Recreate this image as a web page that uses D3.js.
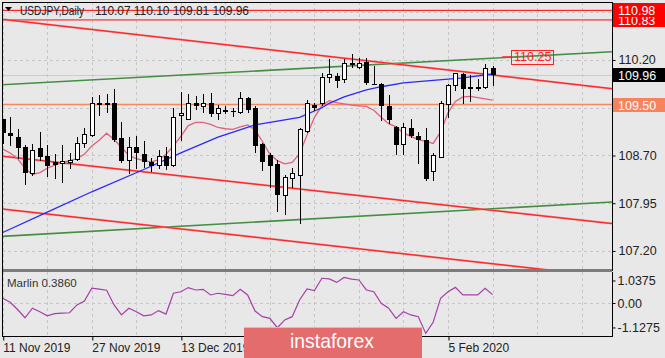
<!DOCTYPE html>
<html><head><meta charset="utf-8">
<script src="https://cdn.jsdelivr.net/npm/d3@7/dist/d3.min.js"></script>
<style>
body{margin:0;background:#e8e8e8;overflow:hidden}
svg{display:block}
text{font-family:"Liberation Sans",Arial,sans-serif}
</style></head>
<body><svg id="c" width="665" height="358"></svg>
<script>
// ---------------- DATA ----------------
const symbol = "USDJPY", timeframe = "Daily";
const open  = [109.27,109.06,108.99,108.84,108.42,108.81,108.69,108.60,108.58,108.60,108.64,108.89,109.02,109.52,109.52,109.52,108.97,108.63,108.84,108.73,108.60,108.55,108.69,108.55,109.33,109.28,109.52,109.48,109.53,109.36,109.41,109.40,109.39,109.61,109.44,108.88,108.71,108.57,108.08,108.34,108.40,109.09,109.49,109.52,109.93,109.95,109.90,110.15,110.09,110.17,109.83,109.83,109.48,109.14,108.88,109.13,109.01,108.95,108.46,108.68,109.51,109.81,109.98,109.76,109.76,109.78,110.07];
const high  = [109.28,109.31,109.11,108.86,108.88,109.07,108.87,108.72,108.87,108.74,108.99,109.13,109.62,109.65,109.67,109.74,109.22,108.99,109.00,108.92,108.66,108.79,108.84,109.44,109.70,109.67,109.63,109.67,109.68,109.49,109.47,109.44,109.69,109.62,109.47,108.89,108.74,108.63,108.39,108.50,109.13,109.57,109.52,109.99,110.21,110.00,110.21,110.29,110.23,110.23,110.11,109.84,109.65,109.16,109.21,109.27,109.07,109.13,108.74,109.55,109.83,110.00,110.00,109.96,109.90,110.14,110.10];
const low   = [108.89,108.87,108.66,108.25,108.39,108.63,108.37,108.34,108.29,108.50,108.63,108.84,109.01,109.34,109.39,108.92,108.60,108.43,108.50,108.52,108.45,108.50,108.48,108.54,108.95,109.27,109.43,109.39,109.32,109.27,109.36,109.32,109.37,109.39,108.76,108.47,108.21,107.83,107.78,108.21,107.64,109.07,109.41,109.49,109.86,109.78,109.86,110.09,110.07,109.83,109.82,109.26,109.21,108.73,108.73,108.99,108.58,108.32,108.32,108.68,109.31,109.73,109.53,109.55,109.73,109.76,109.81];
const close = [109.06,109.01,108.81,108.43,108.79,108.68,108.54,108.55,108.62,108.63,108.90,109.03,109.53,109.49,109.49,108.94,108.62,108.84,108.74,108.59,108.54,108.69,108.54,109.30,109.36,109.53,109.47,109.53,109.35,109.44,109.39,109.38,109.61,109.41,108.85,108.59,108.54,108.08,108.36,108.42,109.11,109.52,109.44,109.93,109.98,109.87,110.15,110.12,110.16,109.84,109.83,109.47,109.26,108.87,109.14,109.00,108.94,108.33,108.71,109.53,109.81,109.99,109.74,109.77,109.77,110.07,109.96];
// fast moving average (pink), one value per candle
const maFast = [108.80,108.74,108.65,108.50,108.40,108.43,108.50,108.55,108.59,108.62,108.65,108.72,108.85,108.94,109.05,108.95,108.83,108.70,108.65,108.62,108.60,108.63,108.72,108.85,109.00,109.17,109.22,109.22,109.19,109.14,109.12,109.11,109.15,109.18,109.10,108.92,108.72,108.62,108.57,108.59,108.73,109.02,109.30,109.48,109.56,109.53,109.51,109.49,109.48,109.47,109.41,109.30,109.20,109.15,109.05,109.00,108.95,108.92,108.89,109.07,109.37,109.55,109.62,109.63,109.61,109.59,109.57];
// slow moving average (blue), read at these candle indices
const maSlowIdx = [0,6,12,19,24,29,34,40,43,44,46,49,51,54,60,62,66];
const maSlowVal = [107.49,107.81,108.13,108.48,108.74,108.99,109.18,109.30,109.45,109.52,109.62,109.73,109.78,109.84,109.90,109.92,109.98];
// Marlin oscillator, one value per candle
const marlin = [0.22,0.03,-0.30,-0.68,-0.24,-0.40,-0.59,-0.49,-0.47,-0.45,-0.09,0.09,0.68,0.64,0.59,-0.09,-0.55,-0.24,-0.40,-0.59,-0.55,-0.35,-0.51,0.45,0.52,0.71,0.60,0.63,0.37,0.45,0.40,0.34,0.63,0.37,-0.37,-0.63,-0.71,-1.14,-0.78,-0.63,0.14,0.65,0.57,1.14,1.11,0.95,1.18,1.10,1.06,0.60,0.52,-0.01,-0.24,-0.71,-0.40,-0.55,-0.63,-1.40,-0.89,0.22,0.52,0.72,0.37,0.37,0.37,0.68,0.386];
const marlinLabel = "Marlin 0.3860";
// trend lines: [startIdx, startPrice, endIdx, endPrice]
const redLines   = [[-0.1,110.84,82.1,109.75],[-0.1,108.69,82.1,107.63],[-0.1,107.86,82.1,106.79]];
const greenLines = [[-0.1,109.81,82.1,110.33],[-0.1,107.43,82.1,107.97]];
// horizontal levels
const levelValues = [110.98,110.83,109.50];
const noteValue = 110.25, noteFromIdx = 67.3, noteBoxIdx = 68.5;
// axes
const priceTicks = [110.95,110.20,109.45,108.70,107.95,107.20];
const priceTickLabels = ["","110.20","","108.70","107.95","107.20"]; // 110.95 / 109.45 are covered by level tags
const oscTicks = [1.0375,0.00,-1.1275];
const oscTickLabels = ["1.0375","0.00","-1.1275"];
const dateTickIdx = [0,12,24,36,48,60];
const dateTickLabels = ["11 Nov 2019","27 Nov 2019","13 Dec 2019","","","5 Feb 2020"]; // middle two hidden under the logo

// ---------------- LAYOUT ----------------
const W=665,H=358, L=2, R=612, mT=2, mB=269, oT=272, oB=336;
const svg=d3.select("#c");
const x=d3.scaleLinear().domain([-0.1,82.1]).range([L,R]);
const y=d3.scaleLinear().domain([106.917,111.111]).range([mB,mT]);
const yo=d3.scaleLinear().domain([-1.5207,1.4286]).range([oB,oT]);
const px=v=>Math.round(v)+0.5;

svg.append("rect").attr("width",W).attr("height",H).attr("fill","#e8e8e8");
const defs=svg.append("defs");
defs.append("clipPath").attr("id","cm").append("rect").attr("x",L).attr("y",mT).attr("width",R-L).attr("height",mB-mT);
defs.append("clipPath").attr("id","co").append("rect").attr("x",L).attr("y",oT).attr("width",R-L).attr("height",oB-oT);

// grid
const gridIdx=d3.range(0,83,6);
const grid=svg.append("g").attr("stroke","#c6c6c6").attr("stroke-dasharray","3,3").attr("stroke-width",1);
gridIdx.forEach(i=>{
  grid.append("line").attr("x1",px(x(i))).attr("x2",px(x(i))).attr("y1",mT).attr("y2",mB);
  grid.append("line").attr("x1",px(x(i))).attr("x2",px(x(i))).attr("y1",oT).attr("y2",oB);
});
priceTicks.forEach(p=>grid.append("line").attr("x1",L).attr("x2",R).attr("y1",px(y(p))).attr("y2",px(y(p))));
grid.append("line").attr("x1",L).attr("x2",R).attr("y1",px(yo(0))).attr("y2",px(yo(0)));

const gm=svg.append("g").attr("clip-path","url(#cm)");
// horizontal levels
const levelColors=["#ff0000","#f26a6a","#f5875f"];
const levelWidths=[1,1.6,1.4];
levelValues.forEach((v,k)=>gm.append("line").attr("x1",L).attr("x2",R).attr("y1",y(v)).attr("y2",y(v))
  .attr("stroke",levelColors[k]).attr("stroke-width",levelWidths[k]));
// bid line
gm.append("line").attr("x1",L).attr("x2",R).attr("y1",px(y(close[close.length-1]))).attr("y2",px(y(close[close.length-1])))
  .attr("stroke","#cbcbcb").attr("stroke-width",1);

// trend lines
const tl=d3.line().x(d=>x(d[0])).y(d=>y(d[1]));
greenLines.forEach(t=>gm.append("path").attr("d",tl([[t[0],t[1]],[t[2],t[3]]])).attr("fill","none").attr("stroke","#448f44").attr("stroke-width",1.6));
redLines.forEach(t=>{
  gm.append("path").attr("d",tl([[t[0],t[1]],[t[2],t[3]]])).attr("fill","none").attr("stroke","#f47a7a").attr("stroke-width",2);
  gm.append("path").attr("d",tl([[t[0],t[1]],[t[2],t[3]]])).attr("fill","none").attr("stroke","#ff1e1e").attr("stroke-width",1);
});

// note 110.25
const noteY=y(noteValue);
gm.append("line").attr("x1",x(noteFromIdx)).attr("x2",x(noteBoxIdx)).attr("y1",noteY).attr("y2",noteY).attr("stroke","#ff2a2a").attr("stroke-width",1.2);
const noteT=svg.append("text").attr("x",x(noteBoxIdx)+3).attr("y",noteY+4.5).attr("font-size",12.5).attr("fill","#ff2020").text(noteValue.toFixed(2));
const nw=noteT.node().getComputedTextLength();
svg.append("rect").attr("x",px(x(noteBoxIdx))).attr("y",Math.round(noteY)-6.5).attr("width",Math.round(nw+5)).attr("height",14)
  .attr("fill","none").attr("stroke","#ff2020").attr("stroke-width",1);

// moving averages
const lineF=d3.line().x((d,i)=>x(i)).y(d=>y(d));
gm.append("path").attr("d",lineF(maFast)).attr("fill","none").attr("stroke","#e2607c").attr("stroke-width",1.3);
const lineS=d3.line().x((d,i)=>x(maSlowIdx[i])).y(d=>y(d));
gm.append("path").attr("d",lineS(maSlowVal)).attr("fill","none").attr("stroke","#2a2aff").attr("stroke-width",1.3);

// candles
const gc=gm.append("g");
open.forEach((o,i)=>{
  const c=close[i], cx=Math.round(x(i));
  gc.append("line").attr("x1",cx+0.5).attr("x2",cx+0.5).attr("y1",Math.round(y(high[i]))).attr("y2",Math.round(y(low[i]))+1)
    .attr("stroke","#000").attr("stroke-width",1);
  const top=Math.round(y(Math.max(o,c))), bot=Math.round(y(Math.min(o,c)));
  const h=Math.max(0,bot-top);
  if(c>=o){
    gc.append("rect").attr("x",cx-2+0.5).attr("y",top+0.5).attr("width",4).attr("height",Math.max(h,0.01))
      .attr("fill","#fff").attr("stroke","#000").attr("stroke-width",1);
  } else {
    gc.append("rect").attr("x",cx-2).attr("y",top).attr("width",5).attr("height",Math.max(h,1)).attr("fill","#000");
  }
});

// oscillator
const go=svg.append("g").attr("clip-path","url(#co)");
const lineO=d3.line().x((d,i)=>x(i)).y(d=>yo(d));
go.append("path").attr("d",lineO(marlin)).attr("fill","none").attr("stroke","#a63fa8").attr("stroke-width",1.2);
svg.append("text").attr("x",7).attr("y",287).attr("font-size",11.5).attr("fill","#333").text(marlinLabel);

// frames
svg.append("rect").attr("x",L).attr("y",mB).attr("width",R-L).attr("height",3).attr("fill","#7c7c7c");
svg.append("line").attr("x1",L+0.5).attr("x2",L+0.5).attr("y1",mT).attr("y2",oB).attr("stroke","#000");
svg.append("line").attr("x1",L).attr("x2",R).attr("y1",mT+0.5).attr("y2",mT+0.5).attr("stroke","#000");

// price axis
const ax=svg.append("g").attr("transform",`translate(${R+0.5},0)`)
  .call(d3.axisRight(y).tickValues(priceTicks).tickSize(3).tickPadding(3).tickFormat((d,i)=>priceTickLabels[i]));
ax.select(".domain").attr("d",`M0,${mT}V${mB+2}`).attr("stroke","#000");
ax.selectAll("text").attr("font-size",12.5).attr("fill","#222").attr("font-family","Liberation Sans,Arial,sans-serif");
const axo=svg.append("g").attr("transform",`translate(${R+0.5},0)`)
  .call(d3.axisRight(yo).tickValues(oscTicks).tickSize(3).tickPadding(2).tickFormat((d,i)=>oscTickLabels[i]));
axo.select(".domain").attr("d",`M0,${oT}V${oB}`).attr("stroke","#000");
axo.selectAll("text").attr("font-size",12.5).attr("fill","#222").attr("font-family","Liberation Sans,Arial,sans-serif");
// date axis
const axb=svg.append("g").attr("transform",`translate(0,${oB+0.5})`)
  .call(d3.axisBottom(x).tickValues(dateTickIdx).tickSize(4).tickPadding(3).tickFormat((d,i)=>dateTickLabels[i]));
axb.select(".domain").attr("d",`M${L},0H${R+1}`).attr("stroke","#000");
axb.selectAll("text").attr("font-size",12).attr("fill","#222").attr("text-anchor","start").attr("font-family","Liberation Sans,Arial,sans-serif");
axb.selectAll(".tick line").attr("transform","translate(0.5,0)");

// right-side price labels
function tag(v,bg,fg){
  const yy=Math.round(y(v));
  svg.append("rect").attr("x",R+1).attr("y",yy-7).attr("width",W-R-1).attr("height",14).attr("fill",bg);
  svg.append("text").attr("x",R+6).attr("y",yy+4.5).attr("font-size",12.5).attr("fill",fg).text(v.toFixed(2));
}
tag(levelValues[2],"#f7835d","#fff");
tag(levelValues[1],"#ff0000","#fff");
tag(levelValues[0],"#ff0000","#fff");
tag(close[close.length-1],"#000","#fff");

// header
svg.append("path").attr("d","M5,7H12L8.5,11Z").attr("fill","#000");
const last=close.length-1;
svg.append("text").attr("x",20).attr("y",15).attr("font-size",12).attr("fill","#222")
  .attr("textLength",64).attr("lengthAdjust","spacingAndGlyphs").text(`${symbol},${timeframe}`);
svg.append("text").attr("x",95).attr("y",15).attr("font-size",12).attr("fill","#222")
  .attr("textLength",154).attr("lengthAdjust","spacing")
  .text(`${open[last].toFixed(2)} ${high[last].toFixed(2)} ${low[last].toFixed(2)} ${close[last].toFixed(2)}`);

// watermark
svg.append("rect").attr("x",244).attr("y",327).attr("width",178).attr("height",35).attr("rx",2).attr("fill","#e46c6c");
svg.append("rect").attr("x",244).attr("y",327).attr("width",178).attr("height",1).attr("fill","#f2b0b0");
svg.append("text").attr("x",332).attr("y",348).attr("text-anchor","middle").attr("font-size",21)
  .attr("font-family","Open Sans, sans-serif").attr("fill","#fff").attr("textLength",84).attr("lengthAdjust","spacingAndGlyphs").text("instaforex");
</script></body></html>
